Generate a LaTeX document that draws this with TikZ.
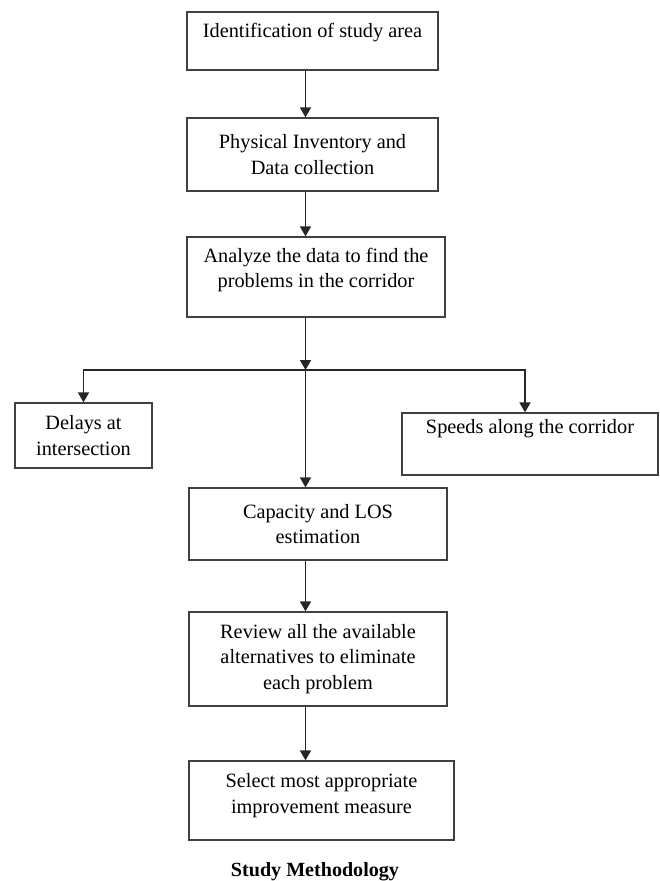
\documentclass[tikz,border=0pt]{standalone}
\usepackage{fontspec}
\setmainfont{Liberation Serif}
\usepackage{tikz}
\usetikzlibrary{arrows.meta}

\begin{document}
\begin{tikzpicture}[x=1pt, y=-1pt, >={Triangle[length=10pt,width=11pt]},
    main/.style = {draw=black!75, line width=1.3pt, inner sep=0pt, align=center,
      font=\fontsize{20.3}{25.5}\selectfont},
    lifted/.style = {text depth=#1},
    link/.style = {draw=black!85, line width=1.8pt}]
    \useasboundingbox (0,0) rectangle (660,881);

    \node[main, minimum width=251pt, minimum height=58pt, lifted=20.4pt] (ident) at (312.5,41) {Identification of study area};
    \node[main, minimum width=251pt, minimum height=73pt, node distance=113.5pt] (phys) [below of=ident] {Physical Inventory and\\Data collection};
    \node[main, minimum width=258pt, minimum height=80pt, lifted=18.4pt, node distance=122.5pt, xshift=3.5pt] (analyze) [below of=phys] {Analyze the data to find the\\problems in the corridor};
    \node[main, minimum width=258pt, minimum height=72pt, node distance=247pt, xshift=2pt] (capacity) [below of=analyze] {Capacity and LOS\\estimation};
    \node[main, minimum width=258pt, minimum height=94pt, node distance=135pt] (review) [below of=capacity] {Review all the available\\alternatives to eliminate\\each problem};
    \node[main, minimum width=265pt, minimum height=79pt, lifted=14.4pt, node distance=141.5pt, xshift=3.5pt] (select) [below of=review] {Select most appropriate\\improvement measure};
    \node[main, minimum width=137pt, minimum height=65pt] (delays) at (83.5,435.5) {Delays at\\intersection};
    \node[main, minimum width=256pt, minimum height=62pt, lifted=34.4pt] (speeds) at (530,444) {Speeds along the corridor};
    \node[font=\fontsize{20.1}{24}\selectfont\bfseries, anchor=base] (caption) at (315,876) {Study Methodology};

    \coordinate (spine) at (305.5,0);
    \coordinate (fork) at (305.5,370);

    \draw[link,->] (ident.south -| spine) -- (phys.north -| spine);
    \draw[link,->] (phys.south -| spine) -- (analyze.north -| spine);
    \draw[link,->] (analyze.south -| spine) -- (fork);
    \draw[link,->] (fork) -- (capacity.north -| spine);
    \draw[link,->] (fork) -| (delays);
    \draw[link,->] (fork) -| ([xshift=-5pt]speeds.north);
    \draw[link,->] (capacity.south -| spine) -- (review.north -| spine);
    \draw[link,->] (review.south -| spine) -- (select.north -| spine);
  \end{tikzpicture}
\end{document}
